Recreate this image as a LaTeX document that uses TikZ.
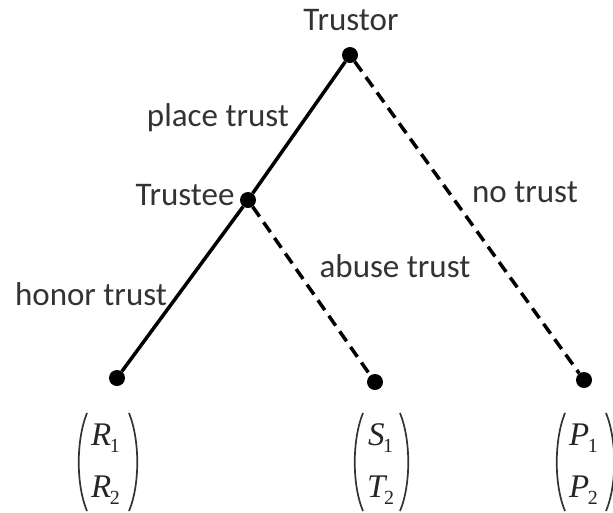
\documentclass[tikz,border=0pt]{standalone}
\usepackage{fontspec}
\setmainfont{Carlito}
\newfontfamily\tms{Liberation Serif}
\newcommand{\ent}[2]{{\tms\itshape #1}\kern-1.5pt\raisebox{-7pt}{\tms\fontsize{20}{20}\selectfont #2}}
\begin{document}
\begin{tikzpicture}[x=1pt,y=-1pt,
  dot/.style={circle,fill=black,inner sep=0pt,minimum size=16pt},
  lbl/.style={font=\fontsize{33}{33}\selectfont,anchor=base,inner sep=0pt,text=black!80},
  pv/.style={font=\fontsize{33}{33}\selectfont,anchor=base west,inner sep=0pt,text=black!85},
  paren/.style={line width=1.7pt,black!80},
  edge/.style={line width=3.5pt},
  dedge/.style={line width=3.5pt,dash pattern=on 12pt off 7pt}]
\useasboundingbox (0,0) rectangle (613,512);
\node[dot] (tor) at (350,55) {};
\node[dot] (tee) at (248,200) {};
\node[dot] (l1) at (117,378) {};
\node[dot] (l2) at (375,382) {};
\node[dot] (l3) at (584,380) {};
\draw[edge] (tor) -- (tee);
\draw[edge] (tee) -- (l1);
\draw[dedge] (tor) -- (l3);
\draw[dedge] (tee) -- (l2);
\node[lbl] (ttor) at (351,30) {Trustor};
\node[lbl] (ttee) at (185,205) {Trustee};
\node[lbl] (pt) at (218,126) {place trust};
\node[lbl] (nt) at (525,202) {no trust};
\node[lbl] (at) at (395,277) {abuse trust};
\node[lbl] (ht) at (91,305) {honor trust};
% payoff vectors
\node[pv] (r1) at (91,445) {\ent{R}{1}};
\node[pv] (r2) at (91,497) {\ent{R}{2}};
\node[pv] (s1) at (368,445) {\ent{S}{1}};
\node[pv] (t2) at (367,497) {\ent{T}{2}};
\node[pv] (q1) at (569,445) {\ent{P}{1}};
\node[pv] (q2) at (569,497) {\ent{P}{2}};
\foreach \a/\b in {87/129, 363/400, 565/606}{
  \draw[paren] (\a,413) .. controls (\a-11,440) and (\a-11,485) .. (\a,511);
  \draw[paren] (\b,413) .. controls (\b+11,440) and (\b+11,485) .. (\b,511);
}
\end{tikzpicture}
\end{document}
